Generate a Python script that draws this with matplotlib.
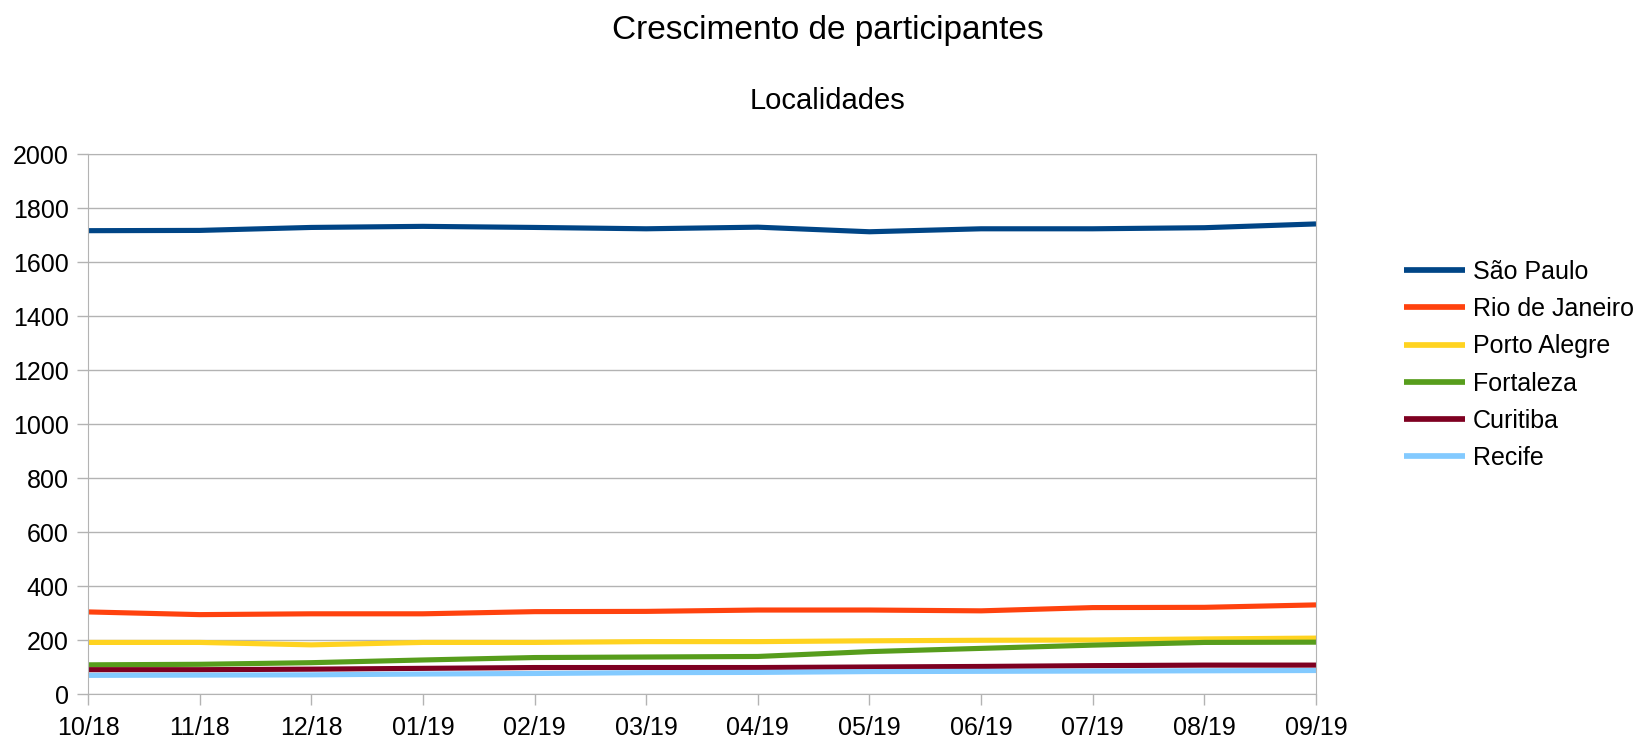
import matplotlib
matplotlib.use("Agg")
import matplotlib.pyplot as plt

plt.rcParams['font.family'] = ['Liberation Sans', 'DejaVu Sans']

months = ["10/18", "11/18", "12/18", "01/19", "02/19", "03/19",
          "04/19", "05/19", "06/19", "07/19", "08/19", "09/19"]

sao_paulo = [1716, 1717, 1728, 1732, 1728, 1723, 1729, 1712, 1723, 1723, 1727, 1741]
rio_de_janeiro = [304, 294, 297, 297, 305, 306, 311, 311, 308, 320, 321, 330]
porto_alegre = [191, 191, 182, 191, 191, 194, 194, 197, 199, 200, 204, 207]
fortaleza = [108, 110, 116, 126, 135, 137, 139, 157, 169, 181, 191, 192]
curitiba = [90, 90, 92, 95, 98, 98, 98, 100, 102, 105, 107, 107]
recife = [69, 70, 71, 74, 76, 79, 80, 83, 84, 85, 86, 87]

series = [
    ("São Paulo", sao_paulo, "#004586"),
    ("Rio de Janeiro", rio_de_janeiro, "#ff420e"),
    ("Porto Alegre", porto_alegre, "#ffd320"),
    ("Fortaleza", fortaleza, "#579d1c"),
    ("Curitiba", curitiba, "#7e0021"),
    ("Recife", recife, "#83caff"),
]

fig = plt.figure(figsize=(16.42, 7.40), dpi=100)
ax = fig.add_axes([88 / 1642, 46 / 740, 1228 / 1642, 540 / 740])

x = list(range(len(months)))
for name, vals, col in series:
    ax.plot(x, vals, color=col, linewidth=3.7, label=name, solid_capstyle='butt')

ax.set_xlim(0, len(months) - 1)
ax.set_ylim(0, 2000)
ax.set_yticks(range(0, 2001, 200))
ax.set_xticks(x)
ax.set_xticklabels(months)
ax.grid(axis='y', color='#b3b3b3', linewidth=1)
ax.set_axisbelow(True)
for s in ax.spines.values():
    s.set_color('#b3b3b3')
ax.tick_params(axis='both', colors='#b3b3b3', labelcolor='black', labelsize=18,
               length=8, width=1)
ax.tick_params(axis='x', pad=8)
ax.tick_params(axis='y', pad=6)

fig.text(0.504, 1 - 39 / 740, "Crescimento de participantes", ha='center',
         va='baseline', fontsize=24)
fig.text(0.504, 1 - 109 / 740, "Localidades", ha='center', va='baseline', fontsize=21)

leg = fig.legend(loc='center left', bbox_to_anchor=(1404 / 1642, 1 - 365 / 740),
                 frameon=False, fontsize=18, handlelength=2.44, handletextpad=0.33,
                 labelspacing=0.53, borderpad=0, borderaxespad=0)
for h in leg.get_lines():
    h.set_linewidth(4.1)

fig.savefig("out.png", dpi=100)
